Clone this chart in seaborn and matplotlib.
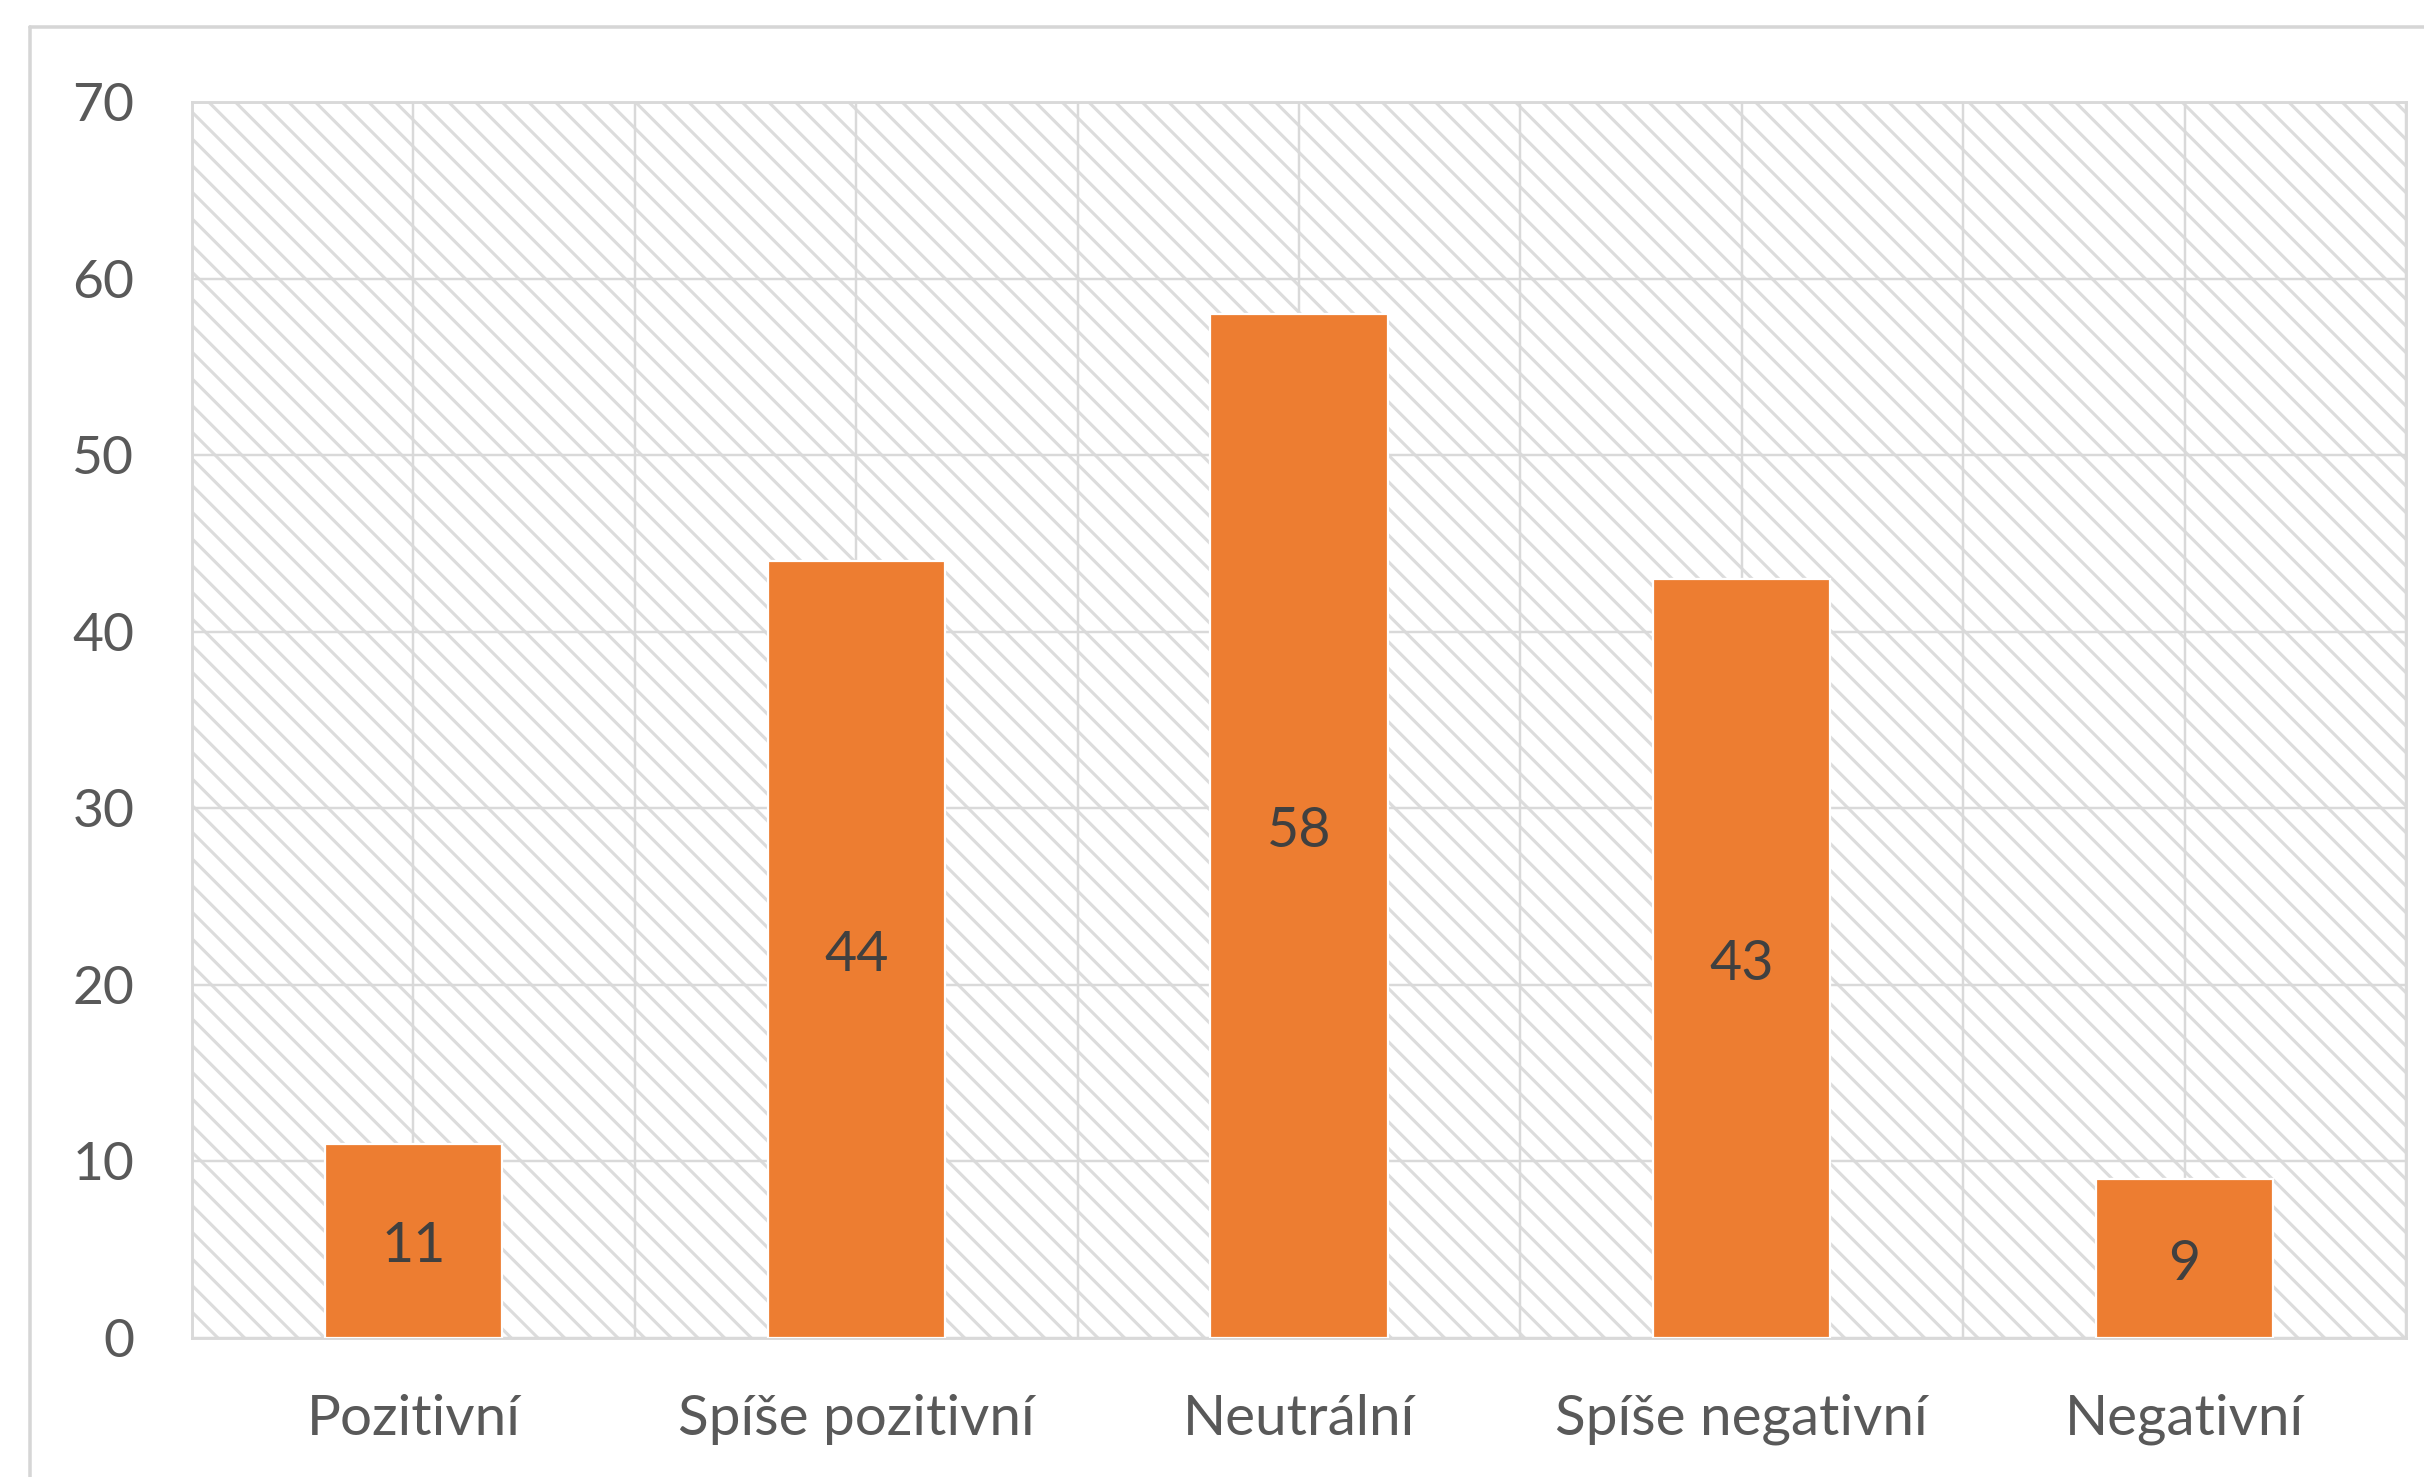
#!/usr/bin/env python3
"""Bar chart of sentiment categories (Czech labels), Excel-like styling."""

import numpy as np
import pandas as pd

import matplotlib
matplotlib.use('Agg')
import matplotlib.pyplot as plt
from matplotlib.lines import Line2D
from matplotlib.patches import Rectangle
import seaborn as sns

categories = ['Pozitivní', 'Spíše pozitivní', 'Neutrální', 'Spíše negativní', 'Negativní']
counts = [11, 44, 58, 43, 9]
y_ticks = [0, 10, 20, 30, 40, 50, 60, 70]

BAR = '#ED7D31'
GRID = '#d9d9d9'
TEXT = '#595959'
VALUE_TEXT = '#404040'

sns.set_theme(style='white')
plt.rcParams['font.family'] = ['Lato', 'DejaVu Sans']
plt.rcParams['hatch.linewidth'] = 1.4

df = pd.DataFrame({'category': categories, 'count': counts})

DPI = 160
fig = plt.figure(figsize=(2424 / DPI, 1477 / DPI), dpi=DPI)
ax = fig.add_axes([192 / 2424, 1 - 1338 / 1477, (2406 - 192) / 2424, (1338 - 102) / 1477])

# hatched background of the plot area (Excel "wide downward diagonal")
bg = Rectangle((0, 0), 1, 1, transform=ax.transAxes, facecolor='white',
               edgecolor='#dcdcdc', hatch='\\\\', linewidth=0, zorder=0)
ax.add_patch(bg)

sns.barplot(data=df, x='category', y='count', color=BAR, width=0.4,
            saturation=1, ax=ax, zorder=3)

ax.set_xlim(-0.5, len(categories) - 0.5)
ax.set_ylim(0, 70)
ax.set_yticks(y_ticks)
ax.set_xticks(np.arange(len(categories)))
ax.set_xticks(np.arange(len(categories) + 1) - 0.5, minor=True)
ax.set_xticklabels(categories)

ax.grid(True, which='major', axis='both', color=GRID, linewidth=1.1, zorder=1)
ax.grid(True, which='minor', axis='x', color=GRID, linewidth=1.1, zorder=1)
ax.set_axisbelow(True)

ax.tick_params(axis='both', which='both', length=0, colors=TEXT)
ax.tick_params(axis='y', pad=26, labelsize=24)
ax.tick_params(axis='x', pad=25, labelsize=25.5)
ax.set_xlabel('')
ax.set_ylabel('')
for sp in ax.spines.values():
    sp.set_color(GRID)
    sp.set_linewidth(1.3)

for container in ax.containers:
    labels = ax.bar_label(container, label_type='center', fontsize=25, color=VALUE_TEXT)
    for t in labels:
        t.xyann = (0, -2.7)

# outer chart frame (left and top edges visible)
fig.add_artist(Line2D([30 / 2424, 30 / 2424], [0, 1 - 27 / 1477],
                      transform=fig.transFigure, color='#d6d6d6', linewidth=1.6))
fig.add_artist(Line2D([30 / 2424, 1], [1 - 27 / 1477, 1 - 27 / 1477],
                      transform=fig.transFigure, color='#d6d6d6', linewidth=1.6))

fig.savefig('out.png', dpi=DPI, facecolor='white')
plt.close(fig)
